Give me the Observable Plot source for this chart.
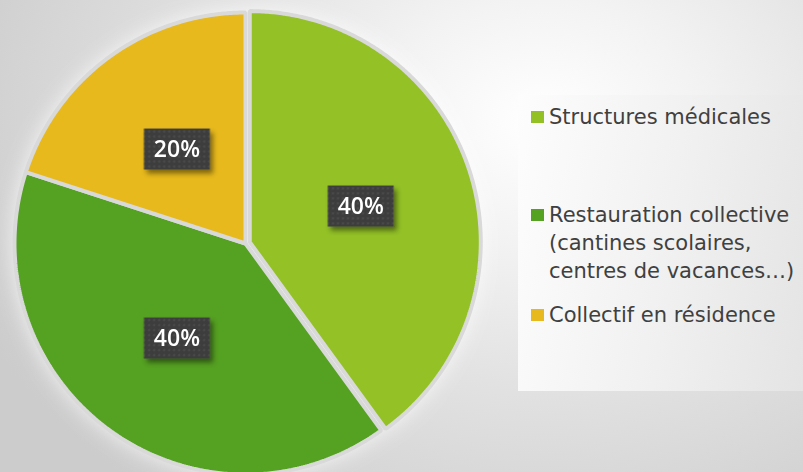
<!DOCTYPE html>
<html>
<head>
<meta charset="utf-8">
<script src="https://cdn.jsdelivr.net/npm/d3@7"></script>
<script src="https://cdn.jsdelivr.net/npm/@observablehq/plot@0.6"></script>
<style>
html, body { margin: 0; padding: 0; }
body { width: 803px; height: 472px; overflow: hidden; }
#wrap {
  position: relative; width: 803px; height: 472px; overflow: hidden;
  background: radial-gradient(ellipse 620px 480px at 540px 120px, #ffffff 0%, #f3f3f3 25%, #e2e2e2 55%, #d6d6d6 80%, #cccccc 100%);
}
#chart { position: absolute; left: 0; top: 0; }
#legend {
  position: absolute; left: 518px; top: 95px; width: 285px; height: 296px;
  background: linear-gradient(100deg, #fdfdfd 0%, #f0f0f0 55%, #e4e4e4 100%);
  font-family: "DejaVu Sans", sans-serif; color: #404040;
}
.sw { position: absolute; left: 13px; width: 13px; height: 12px; }
.txt { position: absolute; left: 31px; white-space: nowrap; font-size: 21px; line-height: 28px; }
</style>
</head>
<body>
<div id="wrap">
  <div id="chart"></div>
  <div id="legend"></div>
</div>
<script>
// ---- data ----
const categories = ["Structures médicales", "Restauration collective (cantines scolaires, centres de vacances…)", "Collectif en résidence"];
const legendLines = [["Structures médicales"], ["Restauration collective", "(cantines scolaires,", "centres de vacances…)"], ["Collectif en résidence"]];
const values = [40, 40, 20];
const labels = ["40%", "40%", "20%"];
const colors = ["#93C125", "#55A122", "#E7B91F"];

// ---- layout / style config ----
const R = 231;                 // pie radius in px
const explode = [4.5 / R, 0, 0]; // slice pull-out, in radius units
const labelR = 0.505;
const legendTops = [16, 114, 214]; // swatch tops within legend box

const total = d3.sum(values);
let acc = 0;
const slices = values.map((v, i) => {
  const a0 = acc / total * 2 * Math.PI; acc += v;
  const a1 = acc / total * 2 * Math.PI;
  const mid = (a0 + a1) / 2;
  return {i, cat: categories[i], a0, a1, mid, dx: explode[i] * Math.sin(mid), dy: explode[i] * Math.cos(mid)};
});
const pts = [];
for (const s of slices) {
  pts.push({cat: s.cat, x: s.dx, y: s.dy});
  const n = Math.ceil((s.a1 - s.a0) / (Math.PI / 360));
  for (let k = 0; k <= n; k++) {
    const a = s.a0 + (s.a1 - s.a0) * k / n;
    pts.push({cat: s.cat, x: s.dx + Math.sin(a), y: s.dy + Math.cos(a)});
  }
}
const labelData = slices.map(s => ({
  label: labels[s.i],
  x: s.dx + labelR * Math.sin(s.mid),
  y: s.dy + labelR * Math.cos(s.mid)
}));

const boxSymbol = { draw(ctx) { ctx.rect(-33, -20.5, 66, 41); } };

const svg = Plot.plot({
  width: 803, height: 472,
  margin: 0,
  x: {domain: [-1, 1], range: [245 - R, 245 + R], axis: null},
  y: {domain: [-1, 1], range: [243 + R, 243 - R], axis: null},
  color: {domain: categories, range: colors},
  style: {background: "transparent", overflow: "hidden"},
  marks: [
    Plot.line(pts, {x: "x", y: "y", z: "cat", fill: "cat", stroke: "#d9d9d9", strokeWidth: 4, strokeLinejoin: "miter", curve: "linear-closed"}),
    Plot.dot(labelData, {x: "x", y: "y", symbol: boxSymbol, fill: "url(#dots)", stroke: "none"}),
    Plot.text(labelData, {x: "x", y: "y", text: "label", fill: "white", fontSize: 23, fontWeight: 600, fontFamily: "Open Sans", dy: 1})
  ]
});

const sel = d3.select(svg);
sel.insert("defs", ":first-child").html(`
  <pattern id="dots" width="5" height="5" patternUnits="userSpaceOnUse">
    <rect width="5" height="5" fill="#3d3d3d"/>
    <rect x="1.5" y="1.5" width="1.6" height="1.6" fill="#585858"/>
  </pattern>
  <filter id="glow" x="-20%" y="-20%" width="140%" height="140%">
    <feDropShadow dx="0" dy="0" stdDeviation="10" flood-color="#ffffff" flood-opacity="0.7"/>
  </filter>
  <filter id="shadow" x="-30%" y="-30%" width="160%" height="160%">
    <feDropShadow dx="3" dy="4" stdDeviation="2.5" flood-color="#000000" flood-opacity="0.45"/>
  </filter>`);
sel.selectAll('g[aria-label="line"]').attr("filter", "url(#glow)");
sel.selectAll('g[aria-label="dot"]').attr("filter", "url(#shadow)");
document.getElementById("chart").appendChild(svg);

// ---- legend ----
const legend = d3.select("#legend");
legendLines.forEach((lines, i) => {
  legend.append("div").attr("class", "sw").style("top", legendTops[i] + "px").style("background", colors[i]);
  legend.append("div").attr("class", "txt").style("top", (legendTops[i] - 8) + "px").html(lines.join("<br>"));
});
</script>
</body>
</html>
